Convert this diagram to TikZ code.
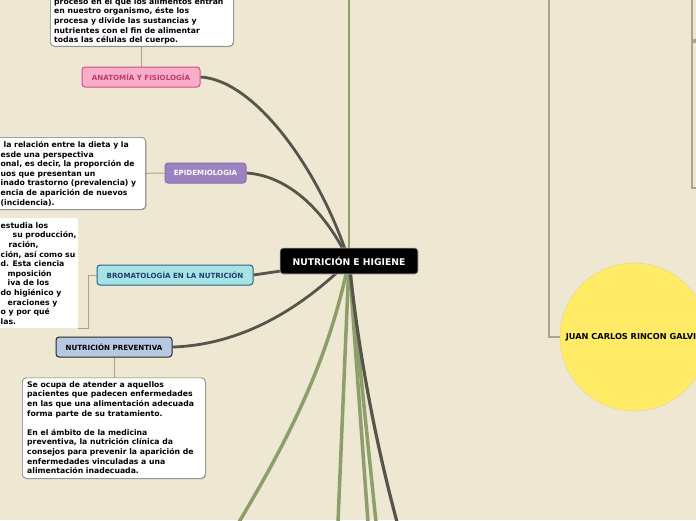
\documentclass[tikz,border=0pt]{standalone}
\usepackage{fontspec}
\setmainfont{DejaVu Sans}
\usetikzlibrary{backgrounds,shadows}
\definecolor{bg}{HTML}{EEE8D3}
\definecolor{grn}{HTML}{8D9E6B}
\definecolor{drk}{HTML}{56554B}
\definecolor{conc}{HTML}{A9A18C}
\definecolor{rlc}{HTML}{ABA48F}
\definecolor{pinkf}{HTML}{F8ADC9}
\definecolor{pinkd}{HTML}{D64C84}
\definecolor{pinkt}{HTML}{C2386F}
\definecolor{purf}{HTML}{9D82C2}
\definecolor{purd}{HTML}{8A6DB3}
\definecolor{cyanf}{HTML}{A6E3E3}
\definecolor{cyand}{HTML}{2D5E8F}
\definecolor{cyant}{HTML}{1E3F70}
\definecolor{prevf}{HTML}{B6C9E2}
\definecolor{yel}{HTML}{FFEB66}
\tikzset{
  ctr/.style={fill=black, draw=white!75!black, line width=0.6pt, rounded corners=3pt, minimum width=138pt, minimum height=26pt, inner sep=0pt, text=white, font=\bfseries\fontsize{9.2}{10}\selectfont},
  branch/.style={rounded corners=3pt, minimum height=20pt, inner sep=0pt, line width=1pt, font=\bfseries\fontsize{7.1}{8}\selectfont},
  tbox/.style={fill=white, draw=black!55, line width=0.6pt, rounded corners=4pt, inner sep=0pt, drop shadow={shadow xshift=0.8pt, shadow yshift=-1pt, opacity=0.35}},
  ttext/.style={align=left, inner sep=0pt, anchor=north west, font=\bfseries\fontsize{7.7}{9.6}\selectfont},
  conn/.style={draw=conc, line width=1pt},
  rline/.style={draw=rlc, line width=1.2pt},
  gr/.style={draw=grn, line width=3.5pt},
  dk/.style={draw=drk, line width=2.8pt},
}
\begin{document}
\begin{tikzpicture}[x=1pt,y=-1pt]
\useasboundingbox (0,0) rectangle (696,520);
\clip (0,0) rectangle (696,520);
% nodes
\node[ctr] (cent) at (349,261) {NUTRICIÓN E HIGIENE};
\node[branch, minimum width=118pt, fill=pinkf, draw=pinkd, text=pinkt] (anat) at (141,77) {ANATOMÍA Y FISIOLOGÍA};
\node[branch, minimum width=81pt, fill=purf, draw=purd, text=white] (epi) at (205.5,173) {EPIDEMIOLOGIA};
\node[branch, minimum width=156pt, fill=cyanf, draw=cyand, text=cyant] (brom) at (175,275) {BROMATOLOGÍA EN LA NUTRICIÓN};
\node[branch, minimum width=116pt, fill=prevf, draw=black!85, text=black] (prev) at (114,347) {NUTRICIÓN PREVENTIVA};

\node[tbox, minimum width=183pt, minimum height=80pt, anchor=south west] (topbox) at (50,46.5) {};
\node[ttext] (toptext) at (54,-1.8) {proceso en el que los alimentos entran\\
en nuestro organismo, éste los\\
procesa y divide las sustancias y\\
nutrientes con el fin de alimentar\\
todas las células del cuerpo.};

\node[tbox, minimum width=170pt, minimum height=72pt, anchor=north east] (epibox) at (146,137) {};
\node[ttext] (epitext) at (0.5,141.2) {\hspace{3pt}la relación entre la dieta y la\\
esde una perspectiva\\
onal, es decir, la proporción de\\
uos que presentan un\\
inado trastorno (prevalencia) y\\
encia de aparición de nuevos\\
(incidencia).};

\node[fill=white, rounded corners=1.5pt, minimum width=100pt, minimum height=110pt, inner sep=0pt, anchor=north east] (brombox) at (78,218) {};
\node[ttext] (bromtext) at (0.5,222.2) {estudia los\\
\hspace{12pt}su producción,\\
\hspace{8pt}ración,\\
ción, así como su\\
d. Esta ciencia\\
\hspace{7pt}mposición\\
\hspace{7pt}iva de los\\
do higiénico y\\
\hspace{7pt}eraciones y\\
o y por qué\\
las.};

\node[tbox, minimum width=183pt, minimum height=100.5pt, anchor=north west] (prevbox) at (22,377.5) {};
\node[ttext] (prevtext) at (27,381.2) {Se ocupa de atender a aquellos\\
pacientes que padecen enfermedades\\
en las que una alimentación adecuada\\
forma parte de su tratamiento.\\[9.6pt]
En el ámbito de la medicina\\
preventiva, la nutrición clínica da\\
consejos para prevenir la aparición de\\
enfermedades vinculadas a una\\
alimentación inadecuada.};

\node[circle, fill=yel, draw=yel!80!black!60, line width=0.5pt, minimum size=148pt, inner sep=0pt, font=\bfseries\fontsize{8.2}{9}\selectfont] (jc) at (634,337) {JUAN CARLOS RINCON GALVIS};

% free ends
\coordinate (gt) at (349,-2);
\coordinate (g1) at (239,522);
\coordinate (g2) at (338,522);
\coordinate (g3) at (368,522);
\coordinate (g4) at (376,522);
\coordinate (d1) at (397,522);
\coordinate (r1) at (549,-2);
\coordinate (r2a) at (692,-2);
\coordinate (r2b) at (698,40);
\coordinate (r3a) at (698,42);
\coordinate (r3b) at (692,188);
\coordinate (r3c) at (698,188);

\begin{pgfonlayer}{background}
\fill[bg] (0,0) rectangle (696,520);
\draw[gr, line width=2.6pt] (cent.center) -- (gt);
\draw[gr] (cent.center) .. controls (330,350) and (300,420) .. (g1);
\draw[gr] (cent.center) -- (g2);
\draw[gr] (cent.center) -- (g3);
\draw[gr] (cent.center) -- (g4);
\draw[dk, line width=3.2pt] (cent.center) .. controls (358,350) and (375,440) .. (d1);
\draw[dk] (anat.east) .. controls (255,80) and (320,170) .. (cent.center);
\draw[dk] (epi.east) .. controls (280,175) and (320,200) .. (cent.center);
\draw[dk] (brom.east) -- (cent.center);
\draw[dk] (prev.east) .. controls (240,345) and (300,310) .. (cent.center);
\draw[conn] (anat.north) -- (anat.north |- topbox.south);
\draw[conn] (epi.west) -- (epibox.east);
\draw[conn] (brom.west) -- ++(-8,0) |- (brombox.south east);
\draw[conn] (prev.south) -- (prev.south |- prevbox.north);
\draw[rline] (r1) |- (jc.west);
\draw[rline] (r2a) |- (r2b);
\draw[rline] (r3a) -| (r3b) -- (r3c);
\end{pgfonlayer}
\end{tikzpicture}
\end{document}
